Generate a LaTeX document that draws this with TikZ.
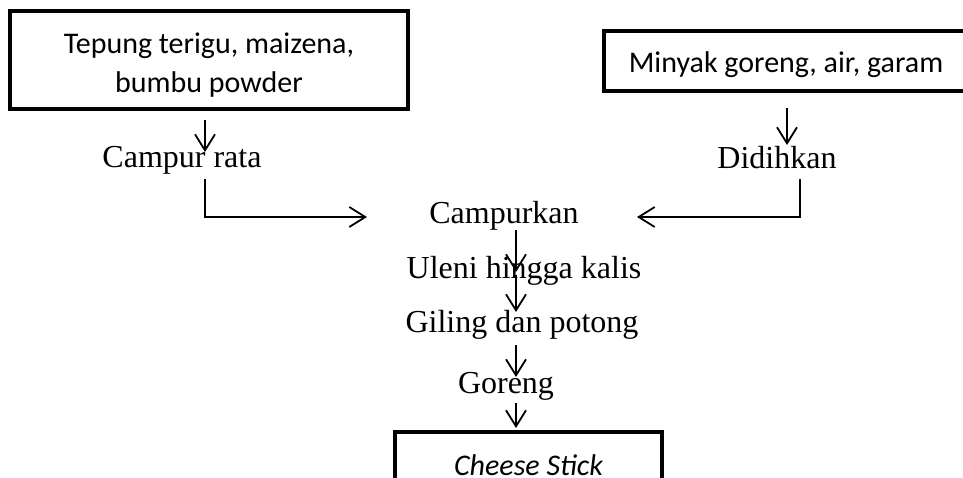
\documentclass[tikz,border=0pt]{standalone}
\usepackage{fontspec}
\setmainfont{Liberation Serif}
\newfontfamily\kotakfont{Carlito}
\usetikzlibrary{arrows.meta}

\begin{document}
\begin{tikzpicture}[x=1pt, y=-1pt,
    kotak/.style={draw, line width=4pt, outer sep=0pt, inner xsep=0pt,
        font=\kotakfont\fontsize{30}{39}\selectfont, align=center},
    teks/.style={inner sep=0pt, anchor=base, font=\fontsize{32}{38}\selectfont},
    panah/.style={line width=1.8pt, -{Straight Barb[length=16pt,width=20pt]}}]
    \useasboundingbox (0,0) rectangle (963,477);
    \clip (0,0) rectangle (963,477);
    % bahan
    \node[kotak, anchor=north, minimum width=398pt, inner ysep=10pt,
        text height=71pt, text depth=7pt] (bahan-1) at (209,11)
        {Tepung terigu, maizena,\\ bumbu powder};
    \node[kotak, anchor=north, minimum width=364pt, inner ysep=12pt,
        text height=29pt, text depth=7pt] (bahan-2) at (786,31)
        {Minyak goreng, air, garam};
    \node[teks] (campur) at (182,167) {Campur rata};
    \node[teks] (didih) at (777,168) {Didihkan};
    % proses
    \foreach[count=\i] \langkah/\px/\py in {Campurkan/504/223,
        Uleni hingga kalis/524/278, Giling dan potong/522/332, Goreng/506/393} {
        \node[teks] (langkah-\i) at (\px,\py) {\langkah};
    }
    \node[kotak, anchor=north, minimum width=267pt, inner ysep=23pt,
        text height=20pt, text depth=7pt] (hasil) at (528.5,432)
        {\itshape Cheese Stick};
    \draw[panah] ([xshift=-4pt,yshift=-11pt]bahan-1.south) -- ([xshift=23pt,yshift=15pt]campur.base);
    \draw[panah] ([xshift=1pt,yshift=-17pt]bahan-2.south) -- ([xshift=10pt,yshift=23pt]didih.base);
    \draw[panah] ([xshift=23pt,yshift=-12pt]campur.base) |- ([xshift=-137pt,yshift=6pt]langkah-1.base);
    \draw[panah] ([xshift=23pt,yshift=-11pt]didih.base) |- ([xshift=133pt,yshift=6pt]langkah-1.base);
    \draw[panah] ([xshift=12pt,yshift=-7pt]langkah-1.base) -- ([xshift=-8pt,yshift=6pt]langkah-2.base);
    \draw[panah] ([xshift=-8pt,yshift=3pt]langkah-2.base) -- ([xshift=-6pt,yshift=20pt]langkah-3.base);
    \draw[panah] ([xshift=-6pt,yshift=-13pt]langkah-3.base) -- ([xshift=10pt,yshift=16pt]langkah-4.base);
    \draw[panah] ([xshift=10pt,yshift=-10pt]langkah-4.base) -- ([xshift=-12.5pt,yshift=4pt]hasil.north);
\end{tikzpicture}
\end{document}
